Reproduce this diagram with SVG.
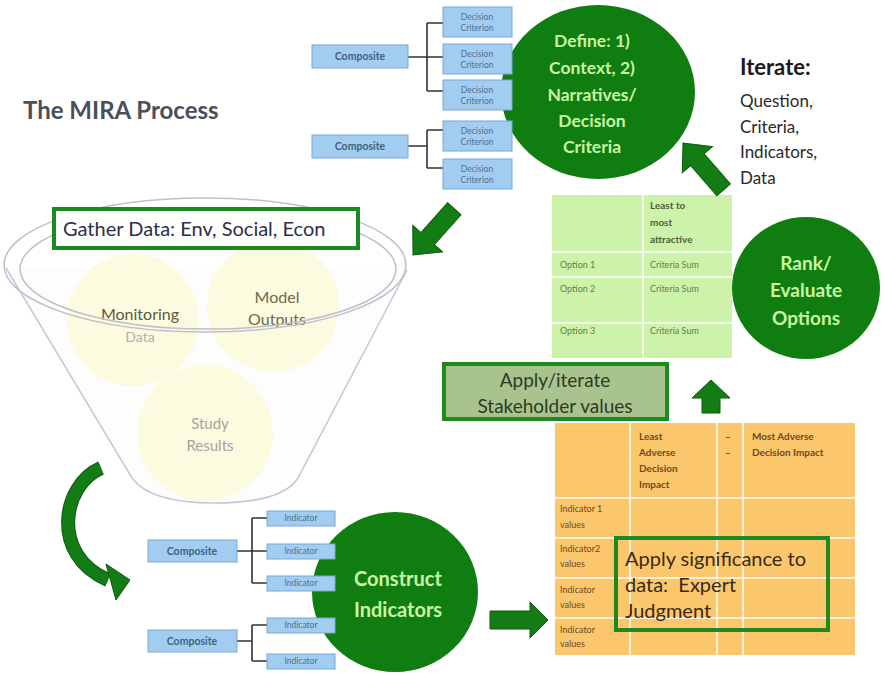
<svg xmlns="http://www.w3.org/2000/svg" width="885" height="673" viewBox="0 0 885 673">
  <style>
    text { font-family: Lato, "Open Sans", "Liberation Sans", sans-serif; }
    .blue { fill: #a3cdf0; stroke: #76a8d6; stroke-width: 1; }
    .btxt { font-size: 8.5px; fill: #4d6f92; text-anchor: middle; }
    .ctxt { font-size: 10.5px; font-weight: bold; fill: #3f6184; text-anchor: middle; }
    .tree { fill: none; stroke: #333; stroke-width: 1.6; }
    .disc { fill: #0f7d10; }
    .disctxt { fill: #c9f7a4; text-anchor: middle; font-weight: bold; }
    .arrow { fill: #137c14; stroke: #0b5a0c; stroke-width: 1; }
    .frame { fill: none; stroke: #1d8a1d; stroke-width: 4; }
    .grid { stroke: #ffffff; stroke-width: 1.5; }
    .otxt { font-size: 9px; fill: #6b4a1c; }
    .ohead { font-size: 10px; font-weight: bold; fill: #6b4a1c; }
    .gtxt { font-size: 9px; fill: #5f7f4a; }
    .ghead { font-size: 10px; font-weight: bold; fill: #4f5f3a; }
    .blob { fill: #fbf8d2; opacity: 0.7; }
    .rim { fill: none; stroke: #bcc0cc; stroke-width: 1.5; }
  </style>
  <defs>
    <!-- right-pointing block arrow, tip at the origin -->
    <path id="blockArrow" d="M-62,-9 L-22,-9 L-22,-20 L0,0 L-22,20 L-22,9 L-62,9 Z"/>
  </defs>

  <rect width="885" height="673" fill="#ffffff"/>

  <!-- title -->
  <g id="title">
    <text x="23" y="119" font-size="24" font-weight="bold" fill="#4a4f5a">The MIRA Process</text>
  </g>

  <!-- define step -->
  <g id="define">
    <ellipse class="disc" cx="598" cy="92" rx="97" ry="87"/>
    <text class="disctxt" x="592" y="47" font-size="17.5">Define: 1)</text>
    <text class="disctxt" x="592" y="74" font-size="17.5">Context, 2)</text>
    <text class="disctxt" x="592" y="101" font-size="17.5">Narratives/</text>
    <text class="disctxt" x="592" y="127" font-size="17.5">Decision</text>
    <text class="disctxt" x="592" y="153" font-size="17.5">Criteria</text>
  </g>

  <!-- decision criteria composites -->
  <g id="criteria">
    <path class="tree" d="M408,57 H427 M427,23 V91 M427,23 H443 M427,57 H443 M427,91 H443"/>
    <path class="tree" d="M408,146 H427 M427,130 V168 M427,130 H443 M427,168 H443"/>
    <rect class="blue" x="312" y="45" width="96" height="23"/>
    <text class="ctxt" x="360" y="60">Composite</text>
    <rect class="blue" x="312" y="135" width="96" height="23"/>
    <text class="ctxt" x="360" y="150">Composite</text>
    <rect class="blue" x="443" y="7" width="69" height="30"/>
    <text class="btxt" x="477" y="20">Decision</text><text class="btxt" x="477" y="31">Criterion</text>
    <rect class="blue" x="443" y="44" width="69" height="30"/>
    <text class="btxt" x="477" y="57">Decision</text><text class="btxt" x="477" y="68">Criterion</text>
    <rect class="blue" x="443" y="80" width="69" height="30"/>
    <text class="btxt" x="477" y="93">Decision</text><text class="btxt" x="477" y="104">Criterion</text>
    <rect class="blue" x="443" y="121" width="69" height="30"/>
    <text class="btxt" x="477" y="134">Decision</text><text class="btxt" x="477" y="145">Criterion</text>
    <rect class="blue" x="443" y="159" width="69" height="30"/>
    <text class="btxt" x="477" y="172">Decision</text><text class="btxt" x="477" y="183">Criterion</text>
  </g>

  <!-- iterate note -->
  <g id="iterate">
    <text x="740" y="75" font-size="22" font-weight="bold" fill="#1a1a1a">Iterate:</text>
    <text x="740" y="107" font-size="17" fill="#2a2a2a">Question,</text>
    <text x="740" y="133" font-size="17" fill="#2a2a2a">Criteria,</text>
    <text x="740" y="158" font-size="17" fill="#2a2a2a">Indicators,</text>
    <text x="740" y="184" font-size="17" fill="#2a2a2a">Data</text>
  </g>

  <!-- data funnel -->
  <g id="funnel">
    <path d="M6,268 L132,478 Q150,503 215,503 Q282,503 298,478 L407,270" fill="#fdfdfd" stroke="#c4c8d4" stroke-width="1.5"/>
    <circle class="blob" cx="133" cy="320" r="66"/>
    <circle class="blob" cx="273" cy="306" r="66"/>
    <circle class="blob" cx="205" cy="433" r="68"/>
    <text x="140" y="320" font-size="16" fill="#5c5c40" text-anchor="middle">Monitoring</text>
    <text x="140" y="342" font-size="14" fill="#b0b0b0" text-anchor="middle">Data</text>
    <text x="277" y="303" font-size="16" fill="#6a6a52" text-anchor="middle">Model</text>
    <text x="277" y="325" font-size="16" fill="#6a6a52" text-anchor="middle">Outputs</text>
    <text x="210" y="429" font-size="15" fill="#a4a4a4" text-anchor="middle">Study</text>
    <text x="210" y="451" font-size="15" fill="#a4a4a4" text-anchor="middle">Results</text>
    <ellipse class="rim" cx="205" cy="265" rx="201" ry="67"/>
    <ellipse class="rim" cx="208" cy="269" rx="188" ry="60"/>
  </g>

  <!-- gather data -->
  <g id="gather">
    <rect x="54" y="209" width="304" height="39" fill="#ffffff" stroke="#1d8a1d" stroke-width="4"/>
    <text x="63" y="236" font-size="20" fill="#2c2f48">Gather Data: Env, Social, Econ</text>
  </g>

  <!-- rank / evaluate options table -->
  <g id="rank-table">
    <rect x="552" y="195" width="180" height="163" fill="#cdf3aa"/>
    <line class="grid" x1="643" y1="195" x2="643" y2="358"/>
    <line class="grid" x1="552" y1="252" x2="732" y2="252" stroke-width="3"/>
    <line class="grid" x1="552" y1="277" x2="732" y2="277"/>
    <line class="grid" x1="552" y1="323" x2="732" y2="323"/>
    <text class="ghead" x="650" y="209">Least to</text>
    <text class="ghead" x="650" y="226">most</text>
    <text class="ghead" x="650" y="243">attractive</text>
    <text class="gtxt" x="560" y="268">Option 1</text>
    <text class="gtxt" x="650" y="268">Criteria Sum</text>
    <text class="gtxt" x="560" y="292">Option 2</text>
    <text class="gtxt" x="650" y="292">Criteria Sum</text>
    <text class="gtxt" x="560" y="334">Option 3</text>
    <text class="gtxt" x="650" y="334">Criteria Sum</text>
  </g>

  <!-- rank step -->
  <g id="rank">
    <ellipse class="disc" cx="806" cy="288" rx="74" ry="71"/>
    <text class="disctxt" x="806" y="270" font-size="19">Rank/</text>
    <text class="disctxt" x="806" y="297" font-size="19">Evaluate</text>
    <text class="disctxt" x="806" y="325" font-size="19">Options</text>
  </g>

  <!-- stakeholder values -->
  <g id="stakeholder">
    <rect x="444" y="364" width="223" height="55" fill="#a9c38e" stroke="#1d8a1d" stroke-width="4"/>
    <text x="555" y="387" font-size="19" fill="#2f3a24" text-anchor="middle">Apply/iterate</text>
    <text x="555" y="413" font-size="19" fill="#2f3a24" text-anchor="middle">Stakeholder values</text>
  </g>

  <!-- significance table -->
  <g id="impact-table">
    <rect x="555" y="423" width="300" height="232" fill="#fcc66d"/>
    <line class="grid" x1="630" y1="423" x2="630" y2="655"/>
    <line class="grid" x1="717" y1="423" x2="717" y2="655"/>
    <line class="grid" x1="743" y1="423" x2="743" y2="655"/>
    <line class="grid" x1="555" y1="498" x2="855" y2="498" stroke-width="3"/>
    <line class="grid" x1="555" y1="538" x2="855" y2="538"/>
    <line class="grid" x1="555" y1="578" x2="855" y2="578"/>
    <line class="grid" x1="555" y1="618" x2="855" y2="618"/>
    <text class="ohead" x="639" y="440">Least</text>
    <text class="ohead" x="639" y="456">Adverse</text>
    <text class="ohead" x="639" y="472">Decision</text>
    <text class="ohead" x="639" y="488">Impact</text>
    <text class="ohead" x="725" y="440">–</text>
    <text class="ohead" x="725" y="456">–</text>
    <text class="ohead" x="752" y="440">Most Adverse</text>
    <text class="ohead" x="752" y="456">Decision Impact</text>
    <text class="otxt" x="560" y="512">Indicator 1</text>
    <text class="otxt" x="560" y="528">values</text>
    <text class="otxt" x="560" y="552">Indicator2</text>
    <text class="otxt" x="560" y="567">values</text>
    <text class="otxt" x="560" y="593">Indicator</text>
    <text class="otxt" x="560" y="608">values</text>
    <text class="otxt" x="560" y="633">Indicator</text>
    <text class="otxt" x="560" y="647">values</text>
  </g>

  <!-- expert judgment -->
  <g id="significance">
    <rect class="frame" x="616" y="538" width="212" height="92"/>
    <text x="625" y="566" font-size="20" fill="#3a2a12">Apply significance to</text>
    <text x="625" y="592" font-size="20" fill="#3a2a12" xml:space="preserve">data:  Expert</text>
    <text x="625" y="618" font-size="20" fill="#3a2a12">Judgment</text>
  </g>

  <!-- construct indicators step -->
  <g id="construct">
    <ellipse class="disc" cx="395" cy="592" rx="83" ry="80"/>
    <text class="disctxt" x="398" y="586" font-size="20">Construct</text>
    <text class="disctxt" x="398" y="617" font-size="20">Indicators</text>
  </g>

  <!-- indicator composites -->
  <g id="indicators">
    <path class="tree" d="M237,551 H252 M252,518 V583 M252,518 H267 M252,551 H267 M252,583 H267"/>
    <path class="tree" d="M237,641 H252 M252,625 V661 M252,625 H267 M252,661 H267"/>
    <rect class="blue" x="148" y="540" width="89" height="22"/>
    <text class="ctxt" x="192" y="555">Composite</text>
    <rect class="blue" x="148" y="630" width="89" height="22"/>
    <text class="ctxt" x="192" y="645">Composite</text>
    <rect class="blue" x="267" y="511" width="68" height="15"/>
    <text class="btxt" x="301" y="521">Indicator</text>
    <rect class="blue" x="267" y="544" width="68" height="15"/>
    <text class="btxt" x="301" y="554">Indicator</text>
    <rect class="blue" x="267" y="576" width="68" height="15"/>
    <text class="btxt" x="301" y="586">Indicator</text>
    <rect class="blue" x="267" y="618" width="68" height="15"/>
    <text class="btxt" x="301" y="628">Indicator</text>
    <rect class="blue" x="267" y="654" width="68" height="15"/>
    <text class="btxt" x="301" y="664">Indicator</text>
  </g>

  <!-- process flow arrows -->
  <g id="connectors">
    <use href="#blockArrow" class="arrow" transform="translate(413,255) rotate(131.8)"/>
    <use href="#blockArrow" class="arrow" transform="translate(683,143) rotate(-130.9)"/>
    <path class="arrow" d="M490,611 L530,611 L530,602 L548,620 L530,638 L530,629 L490,629 Z"/>
    <path class="arrow" d="M711,380 L730,398 L720,398 L720,413 L702,413 L702,398 L692,398 Z"/>
    <path d="M101,468 C62,485 50,555 108,580" fill="none" stroke="#0b5a0c" stroke-width="14"/>
    <path d="M101,468 C62,485 50,555 108,580" fill="none" stroke="#137c14" stroke-width="12"/>
    <path class="arrow" d="M106,564 L130,580 L116,600 Z"/>
  </g>
</svg>
